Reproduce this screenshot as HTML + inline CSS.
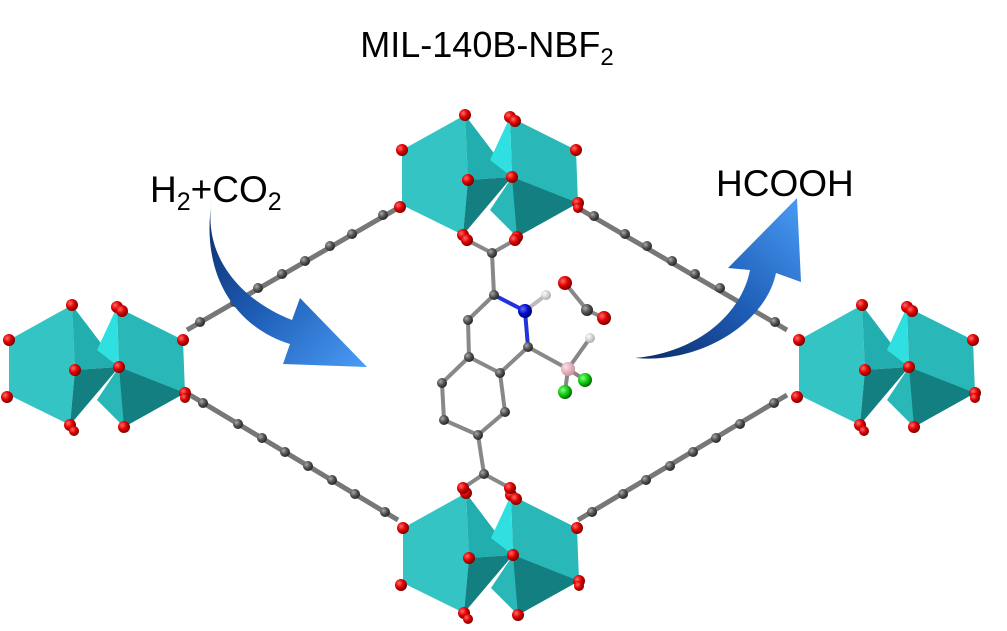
<!DOCTYPE html>
<html><head><meta charset="utf-8"><style>
html,body{margin:0;padding:0;background:#fff;}
svg{display:block;}
text{font-family:"Liberation Sans",sans-serif;fill:#000;}
</style></head><body>
<svg width="1007" height="631" viewBox="0 0 1007 631" xmlns="http://www.w3.org/2000/svg">
<defs>
<radialGradient id="ro" cx="0.35" cy="0.35" r="0.7"><stop offset="0" stop-color="#ff6a6a"/><stop offset="0.5" stop-color="#e00000"/><stop offset="1" stop-color="#700000"/></radialGradient>
<radialGradient id="rc" cx="0.35" cy="0.35" r="0.7"><stop offset="0" stop-color="#aaa"/><stop offset="0.5" stop-color="#555"/><stop offset="1" stop-color="#222"/></radialGradient>
<radialGradient id="rn" cx="0.35" cy="0.35" r="0.7"><stop offset="0" stop-color="#6a6aff"/><stop offset="0.5" stop-color="#0010d0"/><stop offset="1" stop-color="#000060"/></radialGradient>
<radialGradient id="rh" cx="0.35" cy="0.35" r="0.7"><stop offset="0" stop-color="#fff"/><stop offset="1" stop-color="#aaa"/></radialGradient>
<radialGradient id="rf" cx="0.35" cy="0.35" r="0.7"><stop offset="0" stop-color="#8f8"/><stop offset="0.5" stop-color="#10d010"/><stop offset="1" stop-color="#006000"/></radialGradient>
<radialGradient id="rb" cx="0.35" cy="0.35" r="0.7"><stop offset="0" stop-color="#fde"/><stop offset="1" stop-color="#c89098"/></radialGradient>
<linearGradient id="ga" x1="0" y1="0" x2="1" y2="1"><stop offset="0" stop-color="#0b2a66"/><stop offset="0.5" stop-color="#1f5fb8"/><stop offset="1" stop-color="#4a9cf5"/></linearGradient>
<linearGradient id="gb" x1="0" y1="1" x2="1" y2="0"><stop offset="0" stop-color="#0b2a66"/><stop offset="0.5" stop-color="#1f5fb8"/><stop offset="1" stop-color="#4a9cf5"/></linearGradient>
<g id="cl">
<polygon points="85,15 22,50 22,105 83,135 88,80" fill="#34c4c4"/>
<polygon points="85,15 132,77 88,80" fill="#22aeae"/>
<polygon points="88,80 132,77 83,135" fill="#137f80"/>
<polygon points="130,17 196,50 198,103 137,137 110,110 132,77" fill="#2ab7b7"/>
<polygon points="130,17 110,60 132,77" fill="#30e0e0"/>
<polygon points="132,77 198,103 137,137" fill="#147f80"/>
<g fill="url(#ro)">
<circle cx="85" cy="15" r="6"/><circle cx="22" cy="50" r="6"/><circle cx="88" cy="80" r="6"/><circle cx="20" cy="107" r="6"/><circle cx="83" cy="135" r="6"/><circle cx="87" cy="141" r="5"/><circle cx="132" cy="77" r="6"/><circle cx="130" cy="17" r="6"/><circle cx="135" cy="21" r="6"/><circle cx="196" cy="50" r="6"/><circle cx="198" cy="103" r="6"/><circle cx="198" cy="108" r="5"/><circle cx="137" cy="137" r="6"/>
</g>
</g>
</defs>

<text x="487" y="57" font-size="36" text-anchor="middle">MIL-140B-NBF<tspan font-size="24" dy="8">2</tspan></text>
<text x="150" y="202" font-size="37">H<tspan font-size="25" dy="8">2</tspan><tspan dy="-8">+CO</tspan><tspan font-size="25" dy="8">2</tspan></text>
<text x="716" y="196" font-size="37">HCOOH</text>

<g stroke="#777" stroke-width="5">
<line x1="398" y1="208" x2="187" y2="330"/><line x1="578" y1="208" x2="787" y2="330"/>
<line x1="190" y1="395" x2="398" y2="520"/><line x1="787" y1="395" x2="578" y2="520"/>
</g>
<g fill="url(#rc)">
<circle cx="383" cy="215" r="5"/><circle cx="352" cy="234" r="5"/><circle cx="330" cy="246" r="5"/><circle cx="305" cy="261" r="5"/><circle cx="282" cy="274" r="5"/><circle cx="258" cy="288" r="5"/><circle cx="235" cy="302" r="5"/><circle cx="200" cy="322" r="5"/>
<circle cx="594" cy="216" r="5"/><circle cx="625" cy="234" r="5"/><circle cx="647" cy="246" r="5"/><circle cx="672" cy="261" r="5"/><circle cx="695" cy="274" r="5"/><circle cx="720" cy="288" r="5"/><circle cx="743" cy="302" r="5"/><circle cx="775" cy="322" r="5"/>
<circle cx="203" cy="403" r="5"/><circle cx="238" cy="424" r="5"/><circle cx="262" cy="438" r="5"/><circle cx="285" cy="452" r="5"/><circle cx="308" cy="466" r="5"/><circle cx="332" cy="480" r="5"/><circle cx="355" cy="494" r="5"/><circle cx="385" cy="512" r="5"/>
<circle cx="774" cy="403" r="5"/><circle cx="740" cy="424" r="5"/><circle cx="716" cy="438" r="5"/><circle cx="693" cy="452" r="5"/><circle cx="670" cy="466" r="5"/><circle cx="646" cy="480" r="5"/><circle cx="623" cy="494" r="5"/><circle cx="592" cy="512" r="5"/>
</g>

<use href="#cl" transform="translate(380,100)"/>
<use href="#cl" transform="translate(-13,290)"/>
<use href="#cl" transform="translate(777,290)"/>
<use href="#cl" transform="translate(381,478)"/>

<g stroke="#888" stroke-width="4" fill="none">
<polyline points="467,240 492,253 515,240"/>
<line x1="492" y1="253" x2="494" y2="295"/>
<polyline points="494,295 468,320 469,357 442,383 444,420 478,435 505,412 500,373 469,357"/>
<line x1="500" y1="373" x2="528" y2="347"/>
<line x1="528" y1="347" x2="568" y2="369"/>
<polyline points="590,338 568,369 585,380"/><line x1="568" y1="369" x2="565" y2="392"/>
<line x1="478" y1="435" x2="484" y2="474"/>
<polyline points="463,488 484,474 510,488"/>
<polyline points="565,283 587,310 604,318"/>
</g>
<g stroke="#2233dd" stroke-width="4"><line x1="494" y1="295" x2="525" y2="311"/><line x1="525" y1="311" x2="528" y2="347"/></g>
<line x1="525" y1="311" x2="546" y2="295" stroke="#bbb" stroke-width="4"/>
<g fill="url(#ro)"><circle cx="467" cy="240" r="6"/><circle cx="515" cy="240" r="6"/><circle cx="463" cy="488" r="6"/><circle cx="510" cy="488" r="6"/><circle cx="565" cy="283" r="7"/><circle cx="604" cy="318" r="7"/></g>
<g fill="url(#rc)"><circle cx="492" cy="253" r="5"/><circle cx="494" cy="295" r="5"/><circle cx="468" cy="320" r="5"/><circle cx="469" cy="357" r="5"/><circle cx="528" cy="347" r="5"/><circle cx="500" cy="373" r="5"/><circle cx="442" cy="383" r="5"/><circle cx="444" cy="420" r="5"/><circle cx="478" cy="435" r="5"/><circle cx="505" cy="412" r="5"/><circle cx="484" cy="474" r="5"/><circle cx="587" cy="310" r="6"/></g>
<circle cx="525" cy="311" r="7" fill="url(#rn)"/>
<circle cx="546" cy="295" r="5" fill="url(#rh)"/><circle cx="590" cy="338" r="5" fill="url(#rh)"/>
<circle cx="568" cy="369" r="7" fill="url(#rb)"/>
<circle cx="585" cy="380" r="7" fill="url(#rf)"/><circle cx="565" cy="392" r="7" fill="url(#rf)"/>

<path d="M212 200 C202 255 240 300 292 320 L300 298 L367 367 L283 364 L290 344 C232 326 200 270 212 200 Z" fill="url(#ga)"/>
<path d="M635 358 C700 352 742 312 750 270 L728 268 L797 198 L801 282 L776 273 C766 322 702 364 635 358 Z" fill="url(#gb)"/>
</svg>
</body></html>
